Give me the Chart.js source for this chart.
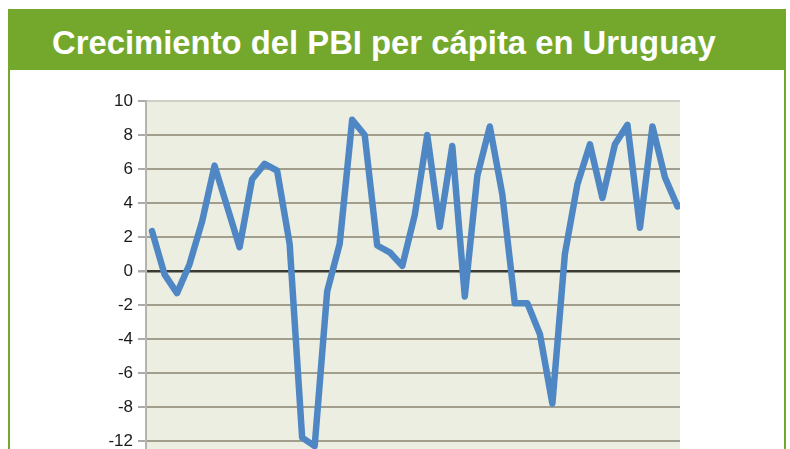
<!DOCTYPE html>
<html>
<head>
<meta charset="utf-8">
<script src="https://cdn.jsdelivr.net/npm/chart.js@4.4.1/dist/chart.umd.min.js"></script>
<style>
  body { margin: 0; background: #fff; overflow: hidden; }
  #header {
    position: absolute; left: 8px; top: 9px; width: 778px; height: 61px;
    background: #74a82c; overflow: hidden;
  }
  #header span {
    position: absolute; left: 44px; top: 0; white-space: nowrap;
    color: #fff; font: bold 34px "Liberation Sans", Arial, sans-serif;
    line-height: 66px; transform: scaleX(0.965); transform-origin: left center;
  }
  #box {
    position: absolute; left: 8px; top: 70px; width: 778px; height: 500px;
    border: 2px solid #74a82c; border-top: none; box-sizing: border-box;
  }
  #chart { position: absolute; left: 10px; top: 72px; }
</style>
</head>
<body>
<div id="header"><span>Crecimiento del PBI per cápita en Uruguay</span></div>
<div id="box"></div>
<canvas id="chart" width="774" height="426"></canvas>
<script>
// years on the (cut off) x axis
const years = [1970, 1971, 1972, 1973, 1974, 1975, 1976, 1977, 1978, 1979,
  1980, 1981, 1982, 1983, 1984, 1985, 1986, 1987, 1988, 1989,
  1990, 1991, 1992, 1993, 1994, 1995, 1996, 1997, 1998, 1999,
  2000, 2001, 2002, 2003, 2004, 2005, 2006, 2007, 2008, 2009,
  2010, 2011, 2012];

// values (the original labels its -10 line as "-12")
const growth = [2.35, -0.2, -1.3, 0.4, 2.9, 6.2, 3.8, 1.4, 5.4, 6.3,
  5.9, 1.6, -9.8, -10.3, -1.2, 1.6, 8.9, 8.0, 1.5, 1.1,
  0.3, 3.3, 8.0, 2.6, 7.35, -1.5, 5.6, 8.5, 4.5, -1.9,
  -1.9, -3.7, -7.8, 1.0, 5.1, 7.45, 4.3, 7.45, 8.6, 2.55,
  8.5, 5.5, 3.8];

const yTickValues = [10, 8, 6, 4, 2, 0, -2, -4, -6, -8, -10];
const yTickLabels = ['10', '8', '6', '4', '2', '0', '-2', '-4', '-6', '-8', '-12'];

// fill the plot area
const plotBackground = {
  id: 'plotBackground',
  beforeDraw(chart) {
    const { ctx, chartArea: a } = chart;
    ctx.save();
    ctx.fillStyle = '#edeee2';
    ctx.fillRect(a.left, a.top, a.right - a.left, a.bottom - a.top);
    ctx.restore();
  }
};

const ctx = document.getElementById('chart').getContext('2d');
new Chart(ctx, {
  type: 'line',
  data: {
    datasets: [{
      data: years.map((y, i) => ({ x: y, y: growth[i] })),
      borderColor: '#4f87c5',
      borderWidth: 6.5,
      borderJoinStyle: 'round',
      borderCapStyle: 'round',
      pointRadius: 0,
      tension: 0,
      fill: false
    }]
  },
  options: {
    responsive: false,
    animation: false,
    layout: { padding: { top: 29, right: 104, left: 0, bottom: 0 } },
    plugins: {
      legend: { display: false },
      tooltip: { enabled: false }
    },
    scales: {
      x: {
        type: 'linear',
        min: 1969.52,
        max: 2012.2,
        grid: { display: false },
        border: { display: false },
        ticks: {
          stepSize: 5,
          color: '#1a1a1a',
          font: { family: 'Liberation Sans', size: 17 }
        },
        afterFit(scale) { scale.height = 40; }
      },
      y: {
        min: -11,
        max: 10,
        afterBuildTicks(scale) {
          scale.ticks = yTickValues.map(v => ({ value: v }));
        },
        afterFit(scale) { scale.width = 136; },
        ticks: {
          padding: 5,
          color: '#1a1a1a',
          font: { family: 'Liberation Sans', size: 17 },
          callback: (value) => yTickLabels[yTickValues.indexOf(value)]
        },
        grid: {
          lineWidth: (c) => (c.tick && c.tick.value === 0 ? 2.5 : 2),
          color: (c) => {
            if (!c.tick) return '#a29e8e';
            if (c.tick.value === 0) return '#3b3b33';
            if (c.tick.value === 10) return '#cfcfc6';
            return '#a29e8e';
          },
          tickColor: '#aaaaaa',
          tickLength: 8
        },
        border: { display: true, color: '#b4b4ac', width: 2 }
      }
    }
  },
  plugins: [plotBackground]
});
</script>
</body>
</html>
